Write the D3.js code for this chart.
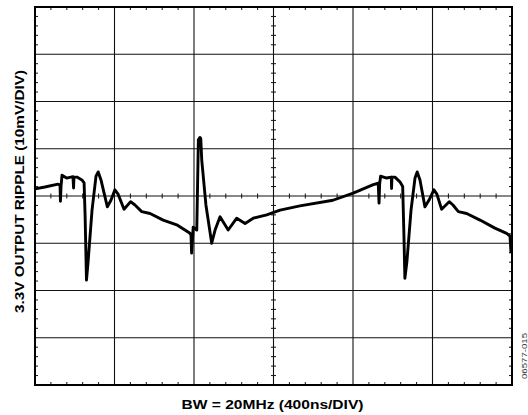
<!DOCTYPE html>
<html>
<head>
<meta charset="utf-8">
<script src="https://cdn.jsdelivr.net/npm/d3@7/dist/d3.min.js"></script>
<style>
	body { margin: 0; background: #fff; }
	text { font-family: Arial, "Liberation Sans", sans-serif; }
</style>
</head>
<body>
<script>
// scope trace: time (ns) and ripple (mV)
var time_ns = [
	0, 50, 116, 126, 128, 131, 136, 159, 191, 194, 196, 211, 236, 247, 252, 259, 267, 287, 307, 318,
	332, 364, 382, 402, 418, 448, 481, 503, 537, 579, 645, 713, 780, 785, 788, 796, 814, 822, 830, 834,
	839, 860, 889, 906, 931, 972, 1015, 1057, 1098, 1166, 1233, 1333, 1499, 1601, 1702, 1727, 1731, 1734, 1739, 1769,
	1793, 1794, 1796, 1811, 1836, 1850, 1856, 1861, 1871, 1892, 1912, 1923, 1937, 1962, 1982, 2007, 2022, 2046, 2084, 2103,
	2130, 2172, 2239, 2314, 2373, 2390, 2395
];
var ripple_mv = [
	1.5, 1.9, 2.5, 2.3, -1.1, 2.1, 4.4, 3.8, 4.1, 1.7, 4.0, 4.0, 3.4, 2.8, -4.0, -17.8, -14.0, -3.0, 4.2, 5.1,
	3.4, -2.3, -0.9, 1.3, 0.4, -2.8, -1.2, -1.9, -3.3, -3.7, -5.1, -6.1, -7.9, -8.3, -12.1, -6.6, -7.2, 11.9, 12.4, 12.2,
	7.6, -1.9, -10.0, -7.2, -4.4, -7.2, -4.7, -5.8, -4.7, -4.0, -3.0, -2.1, -0.9, 0.6, 2.4, 2.7, -1.5, 2.5, 4.2, 3.8,
	4.0, 1.6, 4.0, 4.0, 3.0, 2.0, -7.9, -17.4, -14.0, -3.0, 3.8, 5.1, 3.4, -2.3, -0.9, 1.3, 0.4, -2.8, -1.2, -1.9,
	-3.3, -3.7, -5.1, -6.8, -7.9, -8.5, -12.1
];

var x_divs = d3.range(0, 2401, 400);   // 400ns/DIV
var y_divs = d3.range(-40, 41, 10);    // 10mV/DIV
var x_label = "BW = 20MHz (400ns/DIV)";
var y_label = "3.3V OUTPUT RIPPLE (10mV/DIV)";
var fig_id = "06577-015";

var margin = {left: 35, right: 16, top: 7, bottom: 30},
	width = 528 - margin.left - margin.right,
	height = 415 - margin.top - margin.bottom;

var svg = d3.select("body")
	.append("svg")
	.attr("width", 528)
	.attr("height", 415);

var g = svg.append("g")
	.attr("transform", "translate(" + margin.left + "," + margin.top + ")");

var x = d3.scaleLinear().domain([0, 2400]).range([0, width]);
var y = d3.scaleLinear().domain([-40, 40]).range([height, 0]);

// grid lines
g.selectAll(".vgrid")
	.data(x_divs.slice(1, -1))
	.enter().append("line")
	.attr("x1", d => x(d)).attr("x2", d => x(d))
	.attr("y1", 0).attr("y2", height)
	.attr("stroke", "#111").attr("stroke-width", 1.1);

g.selectAll(".hgrid")
	.data(y_divs.slice(1, -1))
	.enter().append("line")
	.attr("x1", 0).attr("x2", width)
	.attr("y1", d => y(d)).attr("y2", d => y(d))
	.attr("stroke", "#111").attr("stroke-width", 1.1);

// minor ticks, 5 per division
var x_minor = d3.range(0, 2400, 80).filter(d => d % 400 != 0);
var y_minor = d3.range(-40, 40, 2).filter(d => d % 10 != 0);
var tl = 3;

function hticks(yPos, up, down) {
	g.append("g").selectAll("line")
		.data(x_minor).enter().append("line")
		.attr("x1", d => x(d)).attr("x2", d => x(d))
		.attr("y1", yPos - up).attr("y2", yPos + down)
		.attr("stroke", "#111").attr("stroke-width", 1);
}
function vticks(xPos, left, right) {
	g.append("g").selectAll("line")
		.data(y_minor).enter().append("line")
		.attr("y1", d => y(d)).attr("y2", d => y(d))
		.attr("x1", xPos - left).attr("x2", xPos + right)
		.attr("stroke", "#111").attr("stroke-width", 1);
}
hticks(0, 0, tl);
hticks(height, tl, 0);
hticks(y(0), 2.5, 2.5);
vticks(0, 0, tl);
vticks(width, tl, 0);
vticks(x(1200), 2.5, 2.5);

// frame
g.append("rect")
	.attr("width", width).attr("height", height)
	.attr("fill", "none").attr("stroke", "#000").attr("stroke-width", 2);

// trace
var line = d3.line()
	.x((d, i) => x(time_ns[i]))
	.y(d => y(d));

g.append("path")
	.attr("d", line(ripple_mv))
	.attr("fill", "none")
	.attr("stroke", "#000")
	.attr("stroke-width", 2.9)
	.attr("stroke-linejoin", "round");

// labels (stretched to the width of the original lettering)
svg.append("text")
	.attr("x", 181.5)
	.attr("y", 408.5)
	.attr("textLength", 182)
	.attr("lengthAdjust", "spacingAndGlyphs")
	.style("font-size", "12.8px")
	.style("font-weight", "bold")
	.text(x_label);

svg.append("text")
	.attr("transform", "translate(24,313) rotate(-90)")
	.attr("textLength", 243)
	.attr("lengthAdjust", "spacingAndGlyphs")
	.style("font-size", "12.8px")
	.style("font-weight", "bold")
	.text(y_label);

svg.append("text")
	.attr("transform", "translate(527,379) rotate(-90)")
	.attr("textLength", 46)
	.attr("lengthAdjust", "spacingAndGlyphs")
	.style("font-size", "8px")
	.attr("fill", "#333")
	.text(fig_id);
</script>
</body>
</html>
